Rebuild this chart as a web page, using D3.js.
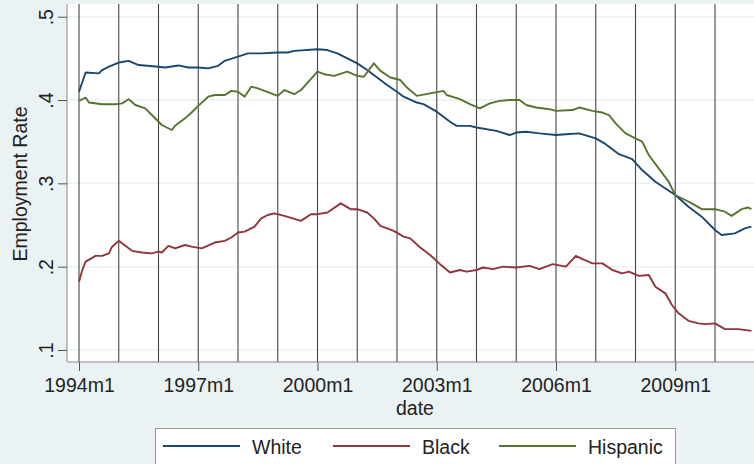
<!DOCTYPE html>
<html>
<head>
<meta charset="utf-8">
<script src="https://cdn.jsdelivr.net/npm/d3@7"></script>
<style>
  body { margin: 0; background: #eaf2f3; }
  svg { display: block; font-family: "Liberation Sans", Arial, sans-serif; }
</style>
</head>
<body>
<svg id="canvas"></svg>
<script>
let width = 754;
let height = 464;
let fontSize = "19.5px";

// series, "YYYYmM" dates
let whiteDates = ["1994m1","1994m3","1994m7","1994m8","1994m10","1995m1","1995m4","1995m7","1996m1","1996m3","1996m7","1996m10",
  "1997m1","1997m4","1997m7","1997m9","1998m1","1998m4","1998m8","1999m1","1999m4","1999m6","2000m1","2000m4","2000m7","2000m10",
  "2001m1","2001m4","2001m7","2001m10","2002m1","2002m3","2002m7","2002m9","2003m1","2003m5","2003m7","2003m11","2004m1","2004m7",
  "2004m11","2005m1","2005m4","2005m8","2006m1","2006m4","2006m8","2007m1","2007m4","2007m8","2007m12","2008m3","2008m7","2009m1",
  "2009m5","2009m9","2010m1","2010m3","2010m7","2010m10","2010m12"];
let whiteVals = [0.410,0.433,0.432,0.436,0.440,0.445,0.447,0.442,0.440,0.439,0.4415,0.439,
  0.439,0.438,0.441,0.447,0.452,0.456,0.456,0.457,0.457,0.459,0.461,0.460,0.456,0.450,
  0.444,0.436,0.427,0.418,0.410,0.404,0.397,0.395,0.386,0.374,0.369,0.369,0.367,0.363,
  0.358,0.361,0.362,0.360,0.358,0.359,0.360,0.354,0.347,0.335,0.329,0.316,0.302,0.286,
  0.272,0.260,0.244,0.238,0.240,0.246,0.248];

let blackDates = ["1994m1","1994m2","1994m3","1994m6","1994m8","1994m10","1994m11","1995m1","1995m3","1995m5","1995m8","1995m11",
  "1996m1","1996m2","1996m4","1996m6","1996m9","1996m11","1997m2","1997m6","1997m9","1997m11","1998m1","1998m3","1998m6","1998m8",
  "1998m10","1998m12","1999m3","1999m8","1999m11","2000m1","2000m4","2000m8","2000m11","2001m1","2001m4","2001m6","2001m8","2001m12",
  "2002m3","2002m5","2002m8","2002m11","2003m2","2003m5","2003m8","2003m10","2004m1","2004m3","2004m6","2004m9","2005m1","2005m5",
  "2005m8","2005m12","2006m4","2006m7","2006m9","2006m12","2007m3","2007m6","2007m9","2007m11","2008m2","2008m5","2008m7","2008m10",
  "2008m12","2009m2","2009m5","2009m8","2009m10","2010m1","2010m4","2010m8","2010m12"];
let blackVals = [0.182,0.196,0.206,0.213,0.213,0.216,0.224,0.231,0.225,0.219,0.217,0.216,
  0.218,0.217,0.225,0.222,0.226,0.224,0.222,0.229,0.231,0.235,0.241,0.242,0.248,0.258,
  0.262,0.264,0.261,0.255,0.263,0.263,0.265,0.276,0.269,0.269,0.265,0.258,0.249,0.243,
  0.236,0.234,0.223,0.214,0.203,0.193,0.196,0.194,0.196,0.199,0.197,0.200,0.199,0.201,
  0.197,0.203,0.200,0.213,0.209,0.204,0.204,0.196,0.192,0.194,0.189,0.190,0.176,0.168,
  0.154,0.144,0.135,0.132,0.131,0.132,0.125,0.125,0.123];

let hispDates = ["1994m1","1994m3","1994m4","1994m8","1994m12","1995m2","1995m4","1995m6","1995m9","1995m11","1996m2","1996m5",
  "1996m6","1996m9","1996m11","1997m1","1997m4","1997m6","1997m9","1997m11","1998m1","1998m3","1998m5","1998m7","1998m9","1999m1",
  "1999m3","1999m6","1999m8","2000m1","2000m3","2000m6","2000m10","2001m1","2001m3","2001m6","2001m8","2001m11","2002m2","2002m4",
  "2002m7","2002m11","2003m3","2003m4","2003m8","2003m11","2004m2","2004m5","2004m8","2004m11","2005m2","2005m4","2005m7","2005m11",
  "2006m1","2006m6","2006m8","2006m12","2007m3","2007m5","2007m7","2007m10","2008m1","2008m3","2008m5","2008m8","2008m11","2009m1",
  "2009m4","2009m6","2009m9","2010m1","2010m4","2010m6","2010m9","2010m11","2010m12"];
let hispVals = [0.399,0.403,0.397,0.395,0.395,0.396,0.401,0.394,0.390,0.382,0.370,0.364,
  0.369,0.378,0.385,0.393,0.404,0.406,0.406,0.411,0.410,0.404,0.416,0.414,0.411,0.405,
  0.412,0.407,0.412,0.434,0.431,0.429,0.434,0.429,0.428,0.444,0.435,0.427,0.424,0.415,
  0.405,0.408,0.411,0.406,0.401,0.395,0.390,0.396,0.399,0.400,0.400,0.394,0.391,0.389,
  0.387,0.388,0.391,0.387,0.385,0.382,0.372,0.360,0.354,0.350,0.334,0.318,0.302,0.286,
  0.280,0.276,0.269,0.269,0.266,0.261,0.269,0.271,0.269];

let seriesNames = ["White", "Black", "Hispanic"];
let colors = ["#1a476f", "#90353b", "#55752f"];
let xTickLabels = ["1994m1", "1997m1", "2000m1", "2003m1", "2006m1", "2009m1"];
let yTicks = [0.1, 0.2, 0.3, 0.4, 0.5];
let yearLines = d3.range(1994, 2011);

// month index since 1994m1
let monthIndex = (s) => {
  let parts = s.split("m");
  return (+parts[0] - 1994) * 12 + (+parts[1] - 1);
};

let series = [
  {name: seriesNames[0], dates: whiteDates, vals: whiteVals, color: colors[0]},
  {name: seriesNames[1], dates: blackDates, vals: blackVals, color: colors[1]},
  {name: seriesNames[2], dates: hispDates, vals: hispVals, color: colors[2]}
];

let canvas = d3.select("#canvas")
  .attr("width", width)
  .attr("height", height);

let plotLeft = 67, plotTop = 4, plotBottom = 362, plotRight = 770;

let xScale = d3.scaleLinear()
  .domain([0, 204])
  .range([79, 754.75]);

let yScale = d3.scaleLinear()
  .domain([0.1, 0.5])
  .range([350, 16.7]);

// plot region
canvas.append("rect")
  .attr("x", plotLeft)
  .attr("y", plotTop)
  .attr("width", plotRight - plotLeft)
  .attr("height", plotBottom - plotTop)
  .attr("fill", "#fff");

// horizontal grid
canvas.append("g")
  .selectAll("line")
  .data(yTicks)
  .enter()
  .append("line")
  .attr("x1", plotLeft)
  .attr("x2", plotRight)
  .attr("y1", (d) => yScale(d))
  .attr("y2", (d) => yScale(d))
  .attr("stroke", "#eaf2f3")
  .attr("stroke-width", 1.5);

// year lines
canvas.append("g")
  .selectAll("line")
  .data(yearLines)
  .enter()
  .append("line")
  .attr("x1", (d) => xScale((d - 1994) * 12))
  .attr("x2", (d) => xScale((d - 1994) * 12))
  .attr("y1", plotTop)
  .attr("y2", plotBottom)
  .attr("stroke", "#444")
  .attr("stroke-width", 1.1);

// series lines
let line = d3.line()
  .x((d) => xScale(d[0]))
  .y((d) => yScale(d[1]));

series.forEach((s) => {
  let pts = s.dates.map((d, i) => [monthIndex(d), s.vals[i]]);
  canvas.append("path")
    .datum(pts)
    .attr("fill", "none")
    .attr("stroke", s.color)
    .attr("stroke-width", 1.9)
    .attr("stroke-linejoin", "round")
    .attr("d", line);
});

// axes
let xAxis = d3.axisBottom(xScale)
  .tickValues(xTickLabels.map(monthIndex))
  .tickSize(9)
  .tickFormat((d, i) => xTickLabels[i]);

let gx = canvas.append("g")
  .attr("transform", "translate(0," + plotBottom + ")")
  .call(xAxis);
gx.select(".domain").attr("d", "M" + plotLeft + ",0H" + (plotRight)).attr("stroke", "#8a8a8a");
gx.selectAll(".tick line").attr("stroke", "#555");
gx.selectAll("text")
  .attr("y", 30)
  .attr("dy", 0)
  .attr("fill", "#222")
  .style("font-size", fontSize);

let yAxis = d3.axisLeft(yScale)
  .tickValues(yTicks)
  .tickSize(9)
  .tickFormat((d) => d3.format(".1f")(d).replace(/^0/, ""));

let gy = canvas.append("g")
  .attr("transform", "translate(" + plotLeft + ",0)")
  .call(yAxis);
gy.select(".domain").attr("d", "M0," + plotTop + "V" + plotBottom).attr("stroke", "#8a8a8a");
gy.selectAll(".tick line").attr("stroke", "#555");
gy.selectAll("text")
  .attr("transform", "rotate(-90)")
  .attr("x", 0)
  .attr("y", -14)
  .attr("dy", 0)
  .attr("text-anchor", "middle")
  .attr("fill", "#222")
  .style("font-size", fontSize);

// axis titles
canvas.append("text")
  .attr("transform", "translate(27,184) rotate(-90)")
  .attr("text-anchor", "middle")
  .attr("fill", "#222")
  .style("font-size", fontSize)
  .text("Employment Rate");

canvas.append("text")
  .attr("x", 415)
  .attr("y", 415)
  .attr("text-anchor", "middle")
  .attr("fill", "#222")
  .style("font-size", fontSize)
  .text("date");

// legend
let legend = canvas.append("g");
legend.append("rect")
  .attr("x", 155.5)
  .attr("y", 428.5)
  .attr("width", 520)
  .attr("height", 50)
  .attr("fill", "#fff")
  .attr("stroke", "#999");

let legendX = [163, 333, 499];
series.forEach((s, i) => {
  legend.append("line")
    .attr("x1", legendX[i])
    .attr("x2", legendX[i] + 77)
    .attr("y1", 446)
    .attr("y2", 446)
    .attr("stroke", s.color)
    .attr("stroke-width", 1.9);
  legend.append("text")
    .attr("x", legendX[i] + 89)
    .attr("y", 454)
    .attr("fill", "#222")
    .style("font-size", fontSize)
    .text(s.name);
});
</script>
</body>
</html>
